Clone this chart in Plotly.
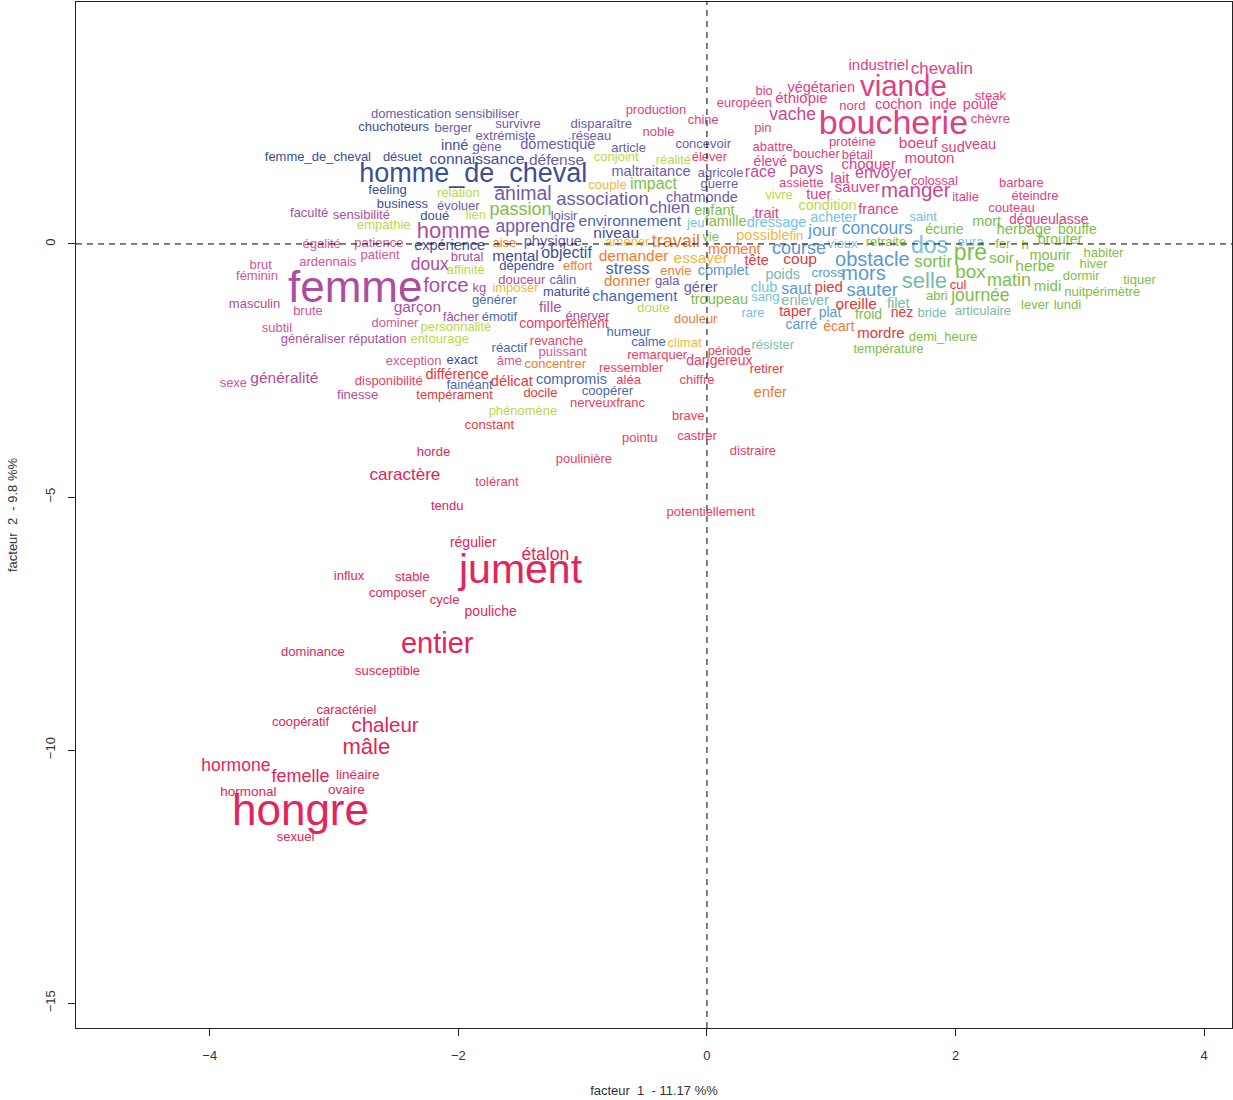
import plotly.graph_objects as go

FONT = "Liberation Sans, Arial, sans-serif"
BASE_FONT = 13

X_TITLE = "facteur  1  - 11.17 %%"
Y_TITLE = "facteur  2  - 9.8 %%"
X_TICKS = [-4, -2, 0, 2, 4]
Y_TICKS = [-15, -10, -5, 0]

# (word, facteur 1, facteur 2, weight)
JUMENT = [
    ("jument", -1.50, -6.50, 28), ("hongre", -3.27, -11.26, 31), ("entier", -2.17, -7.94, 16),
    ("mâle", -2.74, -9.96, 9), ("chaleur", -2.59, -9.55, 7.5), ("hormone", -3.79, -10.32, 4.5),
    ("femelle", -3.27, -10.55, 5), ("caractère", -2.43, -4.58, 4), ("étalon", -1.30, -6.15, 4.5),
    ("régulier", -1.88, -5.91, 1), ("pouliche", -1.74, -7.29, 1), ("linéaire", -2.81, -10.51, 0.5),
    ("hormonal", -3.69, -10.83, 0.5), ("ovaire", -2.90, -10.81, 0.5), ("sexuel", -3.31, -11.74, 0),
    ("horde", -2.20, -4.13, 0), ("tendu", -2.09, -5.20, 0), ("influx", -2.88, -6.58, 0),
    ("stable", -2.37, -6.60, 0), ("composer", -2.49, -6.92, 0), ("cycle", -2.11, -7.04, 0),
    ("dominance", -3.17, -8.08, 0), ("susceptible", -2.57, -8.46, 0), ("caractériel", -2.90, -9.23, 0),
    ("coopératif", -3.27, -9.45, 0),
]

BOUCHERIE = [
    ("boucherie", 1.50, 2.35, 21), ("viande", 1.58, 3.06, 16.5), ("chevalin", 1.89, 3.44, 4),
    ("industriel", 1.38, 3.52, 2), ("bio", 0.46, 3.00, 0), ("végétarien", 0.92, 3.08, 1.5),
    ("steak", 2.28, 2.91, 0), ("européen", 0.30, 2.77, 0), ("éthiopie", 0.76, 2.85, 2),
    ("nord", 1.17, 2.71, 0), ("cochon", 1.54, 2.73, 1.5), ("inde", 1.90, 2.73, 1.5),
    ("poule", 2.20, 2.73, 1.5), ("production", -0.41, 2.63, 0), ("chine", -0.03, 2.43, 0),
    ("chèvre", 2.28, 2.45, 0), ("pin", 0.45, 2.27, 0), ("noble", -0.39, 2.19, 0),
    ("abattre", 0.53, 1.90, 0), ("protéine", 1.17, 2.00, 0), ("boeuf", 1.70, 1.98, 2.5),
    ("sud", 1.98, 1.88, 1.5), ("veau", 2.20, 1.94, 1.5), ("boucher", 0.88, 1.76, 0),
    ("bétail", 1.21, 1.74, 0), ("mouton", 1.79, 1.68, 2), ("élevé", 0.51, 1.60, 1),
    ("choquer", 1.30, 1.56, 2), ("lait", 1.07, 1.28, 2), ("colossal", 1.83, 1.23, 0),
    ("barbare", 2.53, 1.19, 0), ("assiette", 0.76, 1.19, 0), ("sauver", 1.21, 1.11, 2),
    ("italie", 2.08, 0.91, 0), ("éteindre", 2.64, 0.93, 0), ("tuer", 0.90, 0.95, 1.5),
    ("couteau", 2.45, 0.69, 0), ("trait", 0.48, 0.59, 1.5), ("france", 1.38, 0.67, 1.5),
    ("dégueulasse", 2.75, 0.47, 1),
]

ELEVAGE = [
    ("vache", 0.69, 2.53, 4.5), ("race", 0.43, 1.40, 3), ("pays", 0.80, 1.46, 3),
    ("envoyer", 1.42, 1.38, 3), ("manger", 1.68, 1.03, 7.5),
]

FEMME = [
    ("femme", -2.83, -0.93, 31), ("homme", -2.04, 0.22, 9), ("force", -2.10, -0.85, 7.5),
    ("doux", -2.23, -0.43, 4.5), ("garçon", -2.33, -1.26, 2.5), ("fille", -1.26, -1.28, 2),
    ("kg", -1.83, -0.89, 0), ("douceur", -1.49, -0.73, 0), ("brutal", -1.93, -0.28, 0),
    ("fâcher", -1.98, -1.46, 0), ("énerver", -0.96, -1.44, 0), ("généralité", -3.40, -2.67, 2.5),
    ("généraliser", -3.17, -1.90, 0), ("réputation", -2.65, -1.90, 0), ("masculin", -3.64, -1.21, 0),
    ("sensibilité", -2.78, 0.55, 0), ("faculté", -3.20, 0.59, 0), ("finesse", -2.81, -3.00, 0),
]

SEXE = [
    ("égalité", -3.10, -0.02, 0), ("patience", -2.64, 0.00, 0), ("ardennais", -3.05, -0.38, 0),
    ("patient", -2.63, -0.24, 0), ("brut", -3.59, -0.43, 0), ("féminin", -3.62, -0.65, 0),
    ("brute", -3.21, -1.34, 0), ("subtil", -3.46, -1.68, 0), ("dominer", -2.51, -1.58, 0),
    ("exception", -2.36, -2.33, 0), ("âme", -1.59, -2.33, 0), ("puissant", -1.16, -2.15, 0),
    ("sexe", -3.81, -2.77, 0),
]

CAVALIER = [
    ("homme_de_cheval", -1.88, 1.36, 14), ("connaissance", -1.85, 1.66, 2.5),
    ("femme_de_cheval", -3.13, 1.70, 0), ("désuet", -2.45, 1.70, 0), ("chuchoteurs", -2.52, 2.29, 0),
    ("inné", -2.03, 1.92, 1.5), ("feeling", -2.57, 1.05, 0), ("business", -2.45, 0.77, 0),
    ("doué", -2.19, 0.53, 0), ("expérience", -2.07, -0.04, 1.5), ("mental", -1.54, -0.26, 2.5),
    ("objectif", -1.13, -0.20, 3), ("niveau", -0.73, 0.20, 2.5), ("dépendre", -1.45, -0.45, 0),
    ("maturité", -1.13, -0.97, 0), ("exact", -1.97, -2.31, 0),
]

ANIMAL = [
    ("domestication", -2.38, 2.55, 0), ("sensibiliser", -1.77, 2.55, 0), ("survivre", -1.52, 2.35, 0),
    ("disparaître", -0.85, 2.35, 0), ("berger", -2.04, 2.27, 0), ("extrémiste", -1.62, 2.11, 0),
    ("réseau", -0.93, 2.11, 0), ("gène", -1.77, 1.90, 0), ("domestique", -1.20, 1.94, 1.5),
    ("article", -0.63, 1.88, 0), ("défense", -1.21, 1.64, 2.5), ("maltraitance", -0.45, 1.42, 1.5),
    ("animal", -1.48, 0.97, 6.5), ("association", -0.84, 0.87, 5.5), ("évoluer", -2.00, 0.73, 0),
    ("chien", -0.30, 0.69, 4), ("loisir", -1.15, 0.53, 0), ("apprendre", -1.38, 0.32, 4.5),
    ("physique", -1.24, 0.04, 1.5), ("concevoir", -0.03, 1.96, 0), ("agricole", 0.11, 1.38, 0),
    ("guerre", 0.10, 1.17, 0), ("chat", -0.22, 0.91, 1.5), ("monde", 0.07, 0.91, 1.5),
    ("câlin", -1.16, -0.73, 0), ("gala", -0.32, -0.75, 0), ("gérer", -0.05, -0.87, 1.5),
]

STRESS = [
    ("environnement", -0.62, 0.43, 2.5), ("stress", -0.64, -0.51, 3.5), ("changement", -0.58, -1.05, 2.5),
    ("générer", -1.71, -1.13, 0), ("émotif", -1.67, -1.46, 0), ("humeur", -0.63, -1.76, 0),
    ("calme", -0.47, -1.96, 0), ("réactif", -1.59, -2.08, 0), ("fainéant", -1.91, -2.81, 0),
    ("compromis", -1.09, -2.69, 1.5), ("coopérer", -0.80, -2.92, 0),
]

RELATION = [
    ("relation", -2.00, 0.99, 0), ("empathie", -2.60, 0.36, 0), ("lien", -1.86, 0.55, 0),
    ("affinité", -1.94, -0.53, 0), ("personnalité", -2.02, -1.66, 0), ("entourage", -2.15, -1.90, 0),
    ("phénomène", -1.48, -3.32, 0), ("conjoint", -0.73, 1.70, 0), ("réalité", -0.27, 1.64, 0),
    ("doute", -0.43, -1.28, 0), ("vivre", 0.58, 0.95, 0), ("condition", 0.97, 0.75, 1.5),
]

PRE = [
    ("passion", -1.50, 0.67, 5), ("impact", -0.43, 1.17, 3), ("enfant", 0.06, 0.65, 1.5),
    ("famille", 0.15, 0.42, 1.5), ("vie", 0.03, 0.12, 0), ("mort", 2.25, 0.43, 1.5),
    ("écurie", 1.91, 0.26, 1), ("herbage", 2.55, 0.28, 2), ("bouffe", 2.98, 0.26, 1),
    ("brouter", 2.84, 0.06, 1), ("retraite", 1.44, 0.02, 0), ("fer", 2.38, -0.02, 0),
    ("h", 2.56, -0.04, 0), ("pré", 2.12, -0.20, 10), ("soir", 2.37, -0.30, 2.5),
    ("mourir", 2.76, -0.24, 1.5), ("habiter", 3.19, -0.20, 0), ("sortir", 1.82, -0.38, 4),
    ("box", 2.12, -0.57, 6), ("herbe", 2.64, -0.45, 2.5), ("hiver", 3.11, -0.42, 0),
    ("matin", 2.43, -0.75, 5), ("midi", 2.74, -0.85, 2), ("dormir", 3.01, -0.65, 0),
    ("tiquer", 3.48, -0.73, 0), ("nuitpérimètre", 3.18, -0.97, 0), ("abri", 1.85, -1.05, 0),
    ("journée", 2.20, -1.05, 4.5), ("troupeau", 0.10, -1.11, 1.5), ("lever", 2.64, -1.23, 0),
    ("lundi", 2.90, -1.23, 0), ("froid", 1.30, -1.42, 1), ("demi_heure", 1.90, -1.86, 0),
    ("température", 1.46, -2.09, 0),
]

SELLE = [
    ("selle", 1.75, -0.77, 9), ("poids", 0.61, -0.63, 1.5), ("enlever", 0.79, -1.13, 1.5),
    ("filet", 1.54, -1.19, 1.5), ("bride", 1.81, -1.38, 0), ("articulaire", 2.22, -1.34, 0),
    ("résister", 0.53, -2.02, 0),
]

OBSTACLE = [
    ("course", 0.74, -0.10, 5), ("obstacle", 1.33, -0.34, 7), ("sauter", 1.33, -0.93, 5.5),
    ("concours", 1.37, 0.28, 4.5), ("jour", 0.93, 0.24, 4), ("saut", 0.72, -0.91, 3),
    ("mors", 1.26, -0.61, 7), ("plat", 0.99, -1.38, 1), ("carré", 0.76, -1.62, 1),
    ("cross", 0.97, -0.59, 0.5), ("complet", 0.13, -0.55, 1.5),
]

CLUB = [
    ("acheter", 1.02, 0.51, 1), ("saint", 1.74, 0.51, 0), ("jeu", -0.09, 0.40, 0),
    ("dressage", 0.56, 0.40, 1.5), ("vieux", 1.09, -0.02, 0), ("dos", 1.79, -0.06, 10),
    ("eura", 2.12, 0.02, 0), ("club", 0.46, -0.87, 1.5), ("sang", 0.47, -1.07, 0),
    ("rare", 0.37, -1.38, 0),
]

TRAVAIL = [
    ("travail", -0.25, 0.02, 5), ("demander", -0.59, -0.26, 2.5), ("effort", -1.04, -0.45, 0),
    ("donner", -0.64, -0.75, 2), ("envie", -0.25, -0.55, 0), ("moment", 0.22, -0.12, 1.5),
    ("douleur", -0.09, -1.50, 0), ("concentrer", -1.22, -2.39, 0), ("aise", -1.63, 0.00, 0),
    ("écart", 1.06, -1.66, 1), ("enfer", 0.51, -2.96, 1.5),
]

ESSAYER = [
    ("essayer", -0.05, -0.30, 2.5), ("couple", -0.80, 1.15, 0), ("possible", 0.45, 0.14, 1.5),
    ("fin", 0.72, 0.14, 0), ("amener", -0.64, 0.02, 0), ("imposer", -1.54, -0.89, 0),
    ("climat", -0.18, -1.98, 0),
]

COUP = [
    ("coup", 0.75, -0.32, 2.5), ("tête", 0.40, -0.34, 1.5), ("pied", 0.98, -0.87, 2),
    ("oreille", 1.20, -1.21, 2.5), ("taper", 0.71, -1.36, 1), ("nez", 1.57, -1.38, 1),
    ("cul", 2.02, -0.83, 0), ("mordre", 1.40, -1.78, 2), ("retirer", 0.48, -2.49, 0),
    ("différence", -2.01, -2.59, 1.5), ("délicat", -1.57, -2.73, 1.5), ("docile", -1.34, -2.96, 0),
    ("tempérament", -2.03, -3.00, 0), ("constant", -1.75, -3.60, 0),
]

COMPORTEMENT = [
    ("comportement", -1.15, -1.60, 1), ("revanche", -1.21, -1.94, 0), ("remarquer", -0.40, -2.21, 0),
    ("ressembler", -0.61, -2.47, 0), ("disponibilité", -2.56, -2.73, 0), ("aléa", -0.63, -2.71, 0),
    ("nerveuxfranc", -0.80, -3.16, 0), ("pointu", -0.54, -3.85, 0), ("poulinière", -0.99, -4.27, 0),
    ("tolérant", -1.69, -4.72, 0), ("élever", 0.02, 1.70, 0), ("période", 0.18, -2.13, 0),
    ("dangereux", 0.10, -2.33, 1), ("chiffre", -0.08, -2.71, 0), ("brave", -0.15, -3.42, 0),
    ("castrer", -0.08, -3.81, 0), ("distraire", 0.37, -4.11, 0), ("potentiellement", 0.03, -5.32, 0),
]

CLASSES = [
    (RELATION, "#BDD74B"), (ESSAYER, "#F3B640"), (CLUB, "#74C3DE"), (SELLE, "#78BBA8"),
    (PRE, "#7DBE48"), (OBSTACLE, "#5B98D0"), (TRAVAIL, "#F07A2E"), (STRESS, "#4867B3"),
    (ANIMAL, "#6D5CA8"), (CAVALIER, "#3E4D98"), (SEXE, "#CF5796"), (FEMME, "#AC4E9F"),
    (ELEVAGE, "#C24A98"), (BOUCHERIE, "#DE3F86"), (COUP, "#E5383B"), (COMPORTEMENT, "#EC3E62"),
    (JUMENT, "#E2255C"),
]

fig = go.Figure()
for words, color in CLASSES:
    fig.add_trace(go.Scatter(
        x=[w[1] for w in words],
        y=[w[2] for w in words],
        text=[w[0] for w in words],
        mode="text",
        textposition="middle center",
        textfont=dict(family=FONT, color=color, size=[BASE_FONT + w[3] for w in words]),
        hoverinfo="text",
        showlegend=False,
    ))

fig.add_hline(y=0, line=dict(color="black", width=1, dash="6px,5px"))
fig.add_vline(x=0, line=dict(color="black", width=1, dash="6px,5px"))

axis_common = dict(
    showgrid=False, zeroline=False, showline=True, mirror=True,
    linecolor="#222222", linewidth=1, ticks="outside", ticklen=7,
    tickcolor="#222222", tickfont=dict(family=FONT, size=13, color="#333333"),
    ticklabelstandoff=8,
)
fig.update_xaxes(range=[-5.076, 4.224], tickvals=X_TICKS, **axis_common,
                 title=dict(text=X_TITLE, standoff=24, font=dict(family=FONT, size=13, color="#333333")))
fig.update_yaxes(range=[-15.49, 4.78], tickvals=Y_TICKS, tickangle=-90, **axis_common,
                 title=dict(text=Y_TITLE, standoff=22, font=dict(family=FONT, size=13, color="#333333")))

fig.update_layout(
    width=1233, height=1100,
    margin=dict(l=76, r=1, t=2, b=72),
    paper_bgcolor="white", plot_bgcolor="white",
    font=dict(family=FONT),
)

fig.write_html("out.html", config={"displayModeBar": False},
               post_script="document.body.style.margin='0';")
